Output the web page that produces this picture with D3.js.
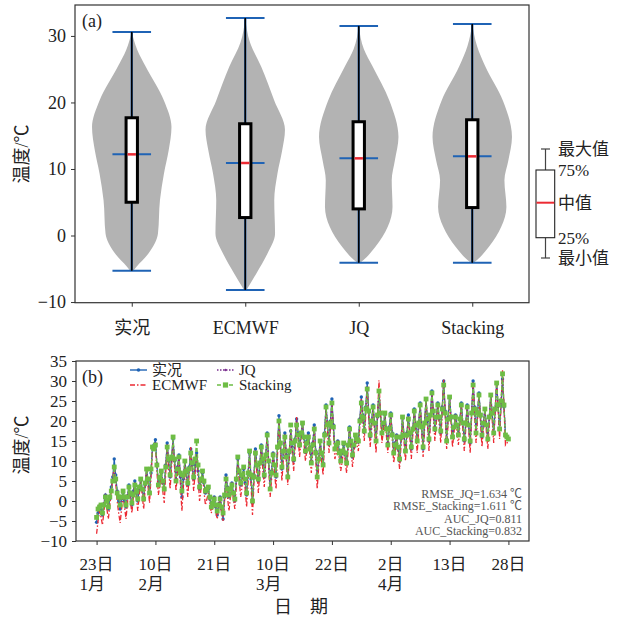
<!DOCTYPE html>
<html>
<head>
<meta charset="utf-8">
<script src="https://cdn.jsdelivr.net/npm/d3@7"></script>
<style>
  body { margin: 0; background: #fff; }
  svg text { font-family: "Liberation Serif", "Noto Sans CJK SC", serif !important; fill: #222; }
</style>
</head>
<body>
<div id="chart"></div>
<script>
// Chart size
var svgWidth = 626;
var svgHeight = 619;

// ---- Panel (a) data: violin + box ----
var categories = ["实况", "ECMWF", "JQ", "Stacking"];
var boxMin = [-5.3, -8.2, -4.1, -4.1];
var boxQ1 = [5.0, 2.7, 4.0, 4.2];
var boxMedian = [12.2, 10.9, 11.6, 11.9];
var boxQ3 = [17.7, 16.8, 17.1, 17.4];
var boxMax = [30.6, 32.7, 31.5, 31.8];

// violin outline: temperature levels and relative half widths
var violinTemps = [
  [-5.3, -4.7, -2.7, 0.3, 5.3, 9.3, 12.8, 16.3, 20.3, 25.4, 27.9, 30.6],
  [-8.2, -5.7, -2.7, 0.3, 5.3, 9.3, 12.8, 15.9, 20.3, 25.4, 29.0, 32.7],
  [-4.1, -3.7, -1.7, 1.3, 4.3, 8.3, 11.3, 14.8, 20.3, 25.4, 28.0, 31.5],
  [-4.1, -3.7, -1.7, 1.3, 4.3, 8.3, 11.3, 14.8, 20.3, 25.4, 28.5, 31.8]
];
var violinWidths = [
  [0.04, 0.12, 0.42, 0.66, 0.71, 0.81, 0.93, 1.0, 0.81, 0.35, 0.14, 0.0],
  [0.03, 0.28, 0.56, 0.75, 0.73, 0.81, 0.93, 1.0, 0.73, 0.40, 0.12, 0.0],
  [0.04, 0.12, 0.42, 0.73, 0.85, 0.83, 0.91, 1.0, 0.77, 0.35, 0.13, 0.0],
  [0.04, 0.12, 0.42, 0.73, 0.86, 0.81, 0.91, 1.0, 0.77, 0.33, 0.12, 0.0]
];
var yTicksA = [-10, 0, 10, 20, 30];
var boxLegendLabels = ["最大值", "75%", "中值", "25%", "最小值"];

// ---- Panel (b) data: time series (281 samples) ----
var obsSeries = [
  -5.3, -3.0, -1.5, -2.0, -3.5, -1.0, 1.5, 0.0, -2.0, 0.5, 3.5, 6.0, 10.5, 6.5, 2.5, 0.0, -2.0, 0.5, 2.0, 0.0,
  -1.5, 1.0, 4.0, 1.5, -1.0, 2.5, 5.0, 2.0, 0.0, 3.0, 5.5, 3.0, 0.5, 4.0, 8.0, 5.0, 2.0, 7.0, 13.5, 14.0,
  15.3, 9.0, 4.0, 5.5, 7.0, 4.5, 3.0, 9.0, 14.5, 10.0, 6.0, 11.0, 15.5, 10.0, 5.0, 8.5, 11.5, 6.0, 1.0, 5.5,
  10.0, 7.0, 4.0, 8.5, 13.0, 9.0, 5.5, 9.0, 12.0, 7.5, 3.0, 5.0, 7.0, 4.5, 2.0, 2.5, 3.0, 0.5, -1.5, -0.5,
  1.0, -1.5, -3.5, -1.0, 1.0, -2.0, -4.5, 1.0, 6.5, 3.5, 1.0, 3.0, 4.5, 2.0, 0.0, 5.5, 10.5, 7.0, 4.0, 6.0,
  8.0, 4.5, 1.5, 7.0, 12.0, 5.5, -0.5, 6.5, 13.0, 9.0, 5.0, 9.5, 14.0, 10.0, 6.0, 11.5, 17.0, 10.0, 3.0, 7.5,
  12.0, 9.0, 6.0, 13.5, 21.3, 14.5, 8.0, 12.5, 17.0, 11.5, 6.0, 12.0, 17.5, 13.5, 10.0, 15.5, 20.5, 17.0, 14.0, 16.5,
  19.5, 16.0, 12.5, 15.0, 17.0, 13.5, 10.0, 14.5, 19.0, 12.5, 6.0, 10.5, 15.0, 12.0, 9.5, 17.0, 24.0, 19.0, 14.5, 20.0,
  25.5, 19.0, 13.0, 14.0, 15.0, 12.5, 10.5, 12.0, 14.0, 11.5, 9.5, 14.0, 18.5, 14.5, 11.0, 13.5, 16.0, 15.5, 15.0, 20.5,
  26.0, 21.5, 17.5, 23.5, 29.5, 22.5, 16.0, 20.0, 24.0, 19.5, 15.0, 21.0, 27.5, 22.0, 17.0, 19.0, 21.5, 18.0, 14.5, 18.5,
  22.0, 17.0, 12.5, 14.5, 16.5, 13.0, 10.0, 15.5, 21.0, 16.5, 12.5, 17.0, 21.5, 17.0, 13.0, 18.0, 23.0, 19.0, 15.0, 19.5,
  24.5, 18.5, 13.0, 19.5, 25.5, 20.0, 15.0, 21.5, 27.5, 22.5, 18.0, 21.0, 24.5, 20.5, 17.0, 23.5, 30.0, 22.5, 15.5, 21.0,
  26.0, 21.0, 16.0, 18.5, 21.5, 19.0, 16.5, 20.5, 24.5, 19.5, 15.0, 19.5, 24.0, 19.0, 14.5, 22.0, 30.0, 23.5, 17.0, 22.0,
  27.0, 21.5, 16.0, 19.5, 23.0, 19.0, 15.5, 21.0, 26.5, 22.0, 17.0, 23.0, 29.5, 24.0, 18.0, 24.0, 30.5, 23.5, 16.5, 16.0, 15.5
];
var ecmwfSeries = [
  -8.2, -5.0, -2.5, -4.0, -6.0, -2.5, 0.5, -2.0, -4.5, -1.0, 2.5, 5.5, 9.0, 4.5, 0.0, -3.0, -5.5, -2.0, 1.5, -1.5,
  -4.5, -0.5, 3.0, 0.0, -3.0, 1.0, 4.5, 1.0, -2.5, 1.5, 5.0, 1.5, -2.0, 3.0, 7.5, 3.5, -0.5, 6.0, 12.5, 13.0,
  14.0, 7.5, 1.5, 4.0, 6.0, 2.5, -0.5, 7.0, 13.5, 8.0, 3.0, 9.0, 14.5, 8.5, 2.5, 7.0, 11.0, 4.0, -2.5, 3.5,
  9.0, 5.0, 1.0, 7.0, 13.5, 8.0, 2.5, 7.0, 11.5, 6.0, 0.0, 3.0, 6.5, 2.5, -1.0, 0.5, 2.0, -0.5, -3.0, -1.5,
  0.0, -2.5, -4.5, -2.0, 0.0, -3.0, -5.0, 0.0, 5.0, 1.0, -2.5, 1.0, 3.5, 0.5, -2.0, 4.0, 9.5, 5.0, 1.0, 4.0,
  7.5, 3.0, -1.5, 4.5, 11.0, 4.0, -3.5, 4.5, 12.5, 7.0, 2.0, 7.5, 13.0, 8.0, 3.5, 10.0, 16.5, 8.5, 1.0, 5.5,
  11.0, 7.0, 3.0, 11.5, 20.5, 12.5, 5.0, 10.5, 16.5, 10.0, 4.0, 11.0, 18.0, 12.5, 7.5, 14.0, 21.0, 16.0, 11.0, 15.0,
  19.0, 14.5, 10.0, 13.0, 16.0, 11.5, 7.0, 12.5, 18.5, 10.5, 3.0, 8.5, 14.0, 10.0, 6.5, 15.0, 23.0, 17.5, 12.0, 18.0,
  24.5, 17.5, 10.5, 12.0, 14.0, 10.5, 7.5, 10.0, 13.0, 10.0, 7.0, 12.5, 18.0, 13.0, 8.5, 12.0, 15.5, 14.0, 12.5, 19.0,
  25.5, 20.0, 15.0, 21.5, 28.5, 21.0, 13.5, 18.0, 23.0, 17.5, 12.0, 21.0, 30.2, 22.0, 14.5, 17.5, 21.0, 16.5, 12.0, 17.0,
  21.5, 15.5, 9.5, 12.5, 16.0, 12.0, 8.0, 14.0, 20.0, 15.0, 10.0, 15.5, 21.0, 16.0, 10.5, 16.5, 22.5, 17.0, 12.0, 18.0,
  24.0, 17.5, 11.0, 18.0, 25.0, 19.0, 12.5, 20.0, 27.0, 21.0, 15.0, 19.5, 24.0, 19.0, 14.5, 22.5, 30.5, 22.0, 13.0, 19.5,
  25.5, 19.5, 13.5, 17.0, 21.0, 17.5, 14.0, 19.0, 24.0, 18.0, 12.5, 18.0, 23.5, 18.0, 12.0, 21.0, 29.5, 22.0, 14.5, 20.5,
  26.5, 20.0, 13.5, 18.0, 22.5, 17.5, 13.0, 19.5, 26.0, 20.0, 14.5, 22.0, 30.0, 23.0, 15.5, 24.0, 32.7, 23.5, 14.0, 14.5, 15.0
];
var jqSeries = [
  -4.1, -2.5, -1.0, -1.5, -3.0, -0.5, 1.5, 0.5, -1.0, 1.0, 3.0, 5.5, 8.0, 5.0, 2.5, 0.5, -1.0, 0.5, 2.0, 0.5,
  -0.5, 1.5, 3.5, 1.5, -0.5, 2.0, 4.5, 2.5, 0.5, 3.0, 5.0, 3.0, 1.0, 4.0, 7.5, 5.0, 2.5, 7.5, 13.0, 14.0,
  14.5, 9.5, 4.5, 6.0, 7.0, 5.0, 3.5, 9.0, 14.0, 10.0, 6.0, 10.5, 15.0, 10.0, 5.5, 8.5, 11.0, 6.5, 2.0, 6.0,
  9.5, 7.0, 4.0, 8.0, 12.5, 9.0, 5.5, 8.5, 11.5, 7.5, 3.5, 5.0, 7.0, 4.5, 2.0, 2.5, 3.0, 1.0, -1.0, 0.0,
  1.0, -1.0, -2.5, -0.5, 1.0, -1.5, -3.5, 1.0, 6.0, 3.5, 1.0, 3.0, 4.5, 2.5, 0.5, 5.0, 10.0, 7.0, 4.0, 6.0,
  8.0, 5.0, 2.0, 7.0, 11.5, 6.0, 0.5, 6.5, 12.5, 9.0, 5.0, 9.5, 13.5, 10.0, 6.0, 11.0, 16.0, 10.0, 3.5, 7.5,
  12.0, 9.0, 6.0, 13.0, 20.0, 14.0, 8.0, 12.0, 16.5, 11.5, 6.5, 12.0, 17.5, 13.5, 10.0, 15.0, 20.0, 16.5, 13.5, 16.0,
  19.0, 15.5, 12.0, 14.5, 16.5, 13.0, 10.0, 14.5, 18.5, 12.5, 6.5, 11.0, 15.0, 12.0, 9.5, 16.5, 23.5, 19.0, 14.0, 19.5,
  24.5, 18.5, 13.0, 14.0, 15.0, 12.5, 10.5, 12.0, 14.0, 12.0, 10.0, 14.0, 18.0, 14.5, 11.0, 13.5, 16.0, 15.0, 14.5, 20.0,
  25.0, 21.0, 17.0, 23.0, 28.5, 22.0, 16.0, 20.0, 23.5, 19.0, 15.0, 21.0, 27.0, 22.0, 17.0, 19.0, 21.0, 18.0, 14.5, 18.0,
  21.5, 17.0, 12.5, 14.5, 16.5, 13.5, 10.5, 15.5, 20.5, 16.5, 12.5, 17.0, 21.0, 17.0, 13.0, 18.0, 22.5, 19.0, 15.0, 19.5,
  24.0, 18.5, 13.5, 19.5, 25.0, 20.0, 15.0, 21.0, 27.0, 22.0, 17.5, 21.0, 24.0, 20.5, 17.0, 23.0, 29.5, 22.5, 15.5, 20.5,
  25.5, 21.0, 16.0, 18.5, 21.5, 19.0, 16.5, 20.0, 24.0, 19.5, 15.0, 19.0, 23.5, 19.0, 14.5, 22.0, 29.5, 23.0, 17.0, 22.0,
  26.5, 21.0, 16.0, 19.5, 23.0, 19.0, 15.5, 21.0, 26.0, 21.5, 17.0, 23.0, 29.0, 23.5, 18.0, 24.5, 31.5, 23.5, 16.5, 16.0, 15.5
];
var stackingSeries = [
  -4.1, -2.0, -1.5, -1.0, -3.0, -1.0, 1.0, 0.0, -1.5, 1.0, 2.5, 5.0, 8.5, 5.5, 2.0, 1.0, -1.0, 1.0, 2.5, 1.0,
  -1.0, 1.0, 3.5, 2.0, -0.5, 1.5, 4.0, 2.5, 0.5, 3.5, 5.5, 3.0, 0.5, 4.5, 8.0, 5.5, 2.0, 8.0, 13.5, 13.0,
  14.0, 9.0, 4.0, 6.0, 7.5, 5.0, 3.0, 8.5, 13.5, 10.5, 6.5, 11.0, 16.0, 10.5, 5.0, 8.0, 11.0, 7.0, 2.5, 6.5,
  10.0, 7.5, 4.5, 8.0, 12.0, 9.5, 6.0, 10.5, 15.0, 9.0, 3.5, 5.5, 7.5, 5.0, 2.5, 3.0, 3.5, 1.0, -1.5, -0.5,
  0.5, -1.0, -2.5, -1.0, 0.5, -1.5, -3.0, 1.5, 5.5, 3.0, 1.5, 3.0, 4.0, 2.0, 0.5, 5.5, 11.0, 7.5, 4.5, 6.5,
  8.5, 5.5, 2.0, 7.0, 12.5, 6.5, 0.0, 6.0, 12.0, 9.0, 5.5, 9.5, 13.5, 10.5, 6.5, 11.5, 16.5, 10.0, 3.0, 7.0,
  11.5, 9.0, 6.5, 13.5, 20.0, 14.5, 8.5, 12.5, 16.0, 11.0, 6.0, 12.5, 19.0, 14.5, 10.5, 15.0, 19.0, 16.5, 14.0, 17.0,
  19.5, 16.0, 12.5, 14.5, 16.0, 13.0, 9.5, 14.0, 18.0, 12.0, 6.0, 10.5, 15.0, 12.0, 9.0, 16.5, 23.5, 19.0, 14.5, 19.5,
  24.5, 18.5, 13.0, 14.0, 14.5, 12.0, 10.0, 12.5, 14.5, 12.0, 9.5, 14.0, 18.0, 15.0, 11.5, 14.0, 16.5, 15.5, 15.0, 20.0,
  24.5, 21.0, 17.5, 23.0, 28.0, 22.5, 16.5, 20.0, 23.5, 19.5, 15.0, 21.5, 27.5, 22.0, 17.0, 19.5, 22.0, 18.0, 14.0, 18.0,
  21.5, 16.5, 12.0, 14.0, 16.0, 13.5, 10.5, 16.0, 21.0, 16.5, 12.5, 16.5, 20.5, 17.0, 13.5, 18.0, 22.5, 19.0, 15.0, 19.5,
  24.0, 18.5, 13.5, 19.5, 25.5, 20.5, 15.5, 21.5, 27.0, 22.5, 18.0, 21.0, 24.0, 21.0, 17.5, 23.0, 29.0, 22.0, 15.0, 20.5,
  26.0, 21.0, 16.0, 18.5, 21.0, 19.0, 16.5, 20.5, 24.0, 19.5, 15.5, 19.5, 23.5, 19.0, 15.0, 22.0, 29.0, 23.0, 17.0, 22.0,
  26.5, 21.5, 16.5, 19.5, 23.0, 19.0, 15.5, 21.0, 26.5, 22.0, 17.0, 23.0, 29.5, 24.0, 18.0, 25.0, 31.8, 24.0, 16.5, 16.0, 15.5
];
var seriesNames = ["实况", "ECMWF", "JQ", "Stacking"];
var dayTickIndex = [0, 40, 80, 120, 160, 200, 240, 280];
var dayTickLabels = ["23日", "10日", "21日", "10日", "22日", "2日", "13日", "28日"];
var monthTickLabels = ["1月", "2月", "", "3月", "", "4月", "", ""];
var yTicksB = [-10, -5, 0, 5, 10, 15, 20, 25, 30, 35];
var scoreLines = ["RMSE_JQ=1.634 ℃", "RMSE_Stacking=1.611 ℃", "AUC_JQ=0.811", "AUC_Stacking=0.832"];

var blue = "#1f63b5", red = "#ec2a33", purple = "#7a2f8f", green = "#6ebd45";
var fontCss = "'Liberation Serif', 'Noto Sans CJK SC', serif";

var svg = d3.select("#chart")
  .append("svg")
  .attr("width", svgWidth)
  .attr("height", svgHeight)
  .attr("font-family", fontCss);

// ================= Panel (a) =================
var xA = d3.scaleLinear().domain([0.5, 4.5]).range([75, 529]);
var yA = d3.scaleLinear().domain([-10.1, 34.65]).range([302.7, 5]);

var gA = svg.append("g");
var halfW = xA(1.35) - xA(1);

// violins
violinTemps.forEach(function(temps, i) {
  var pts = temps.map((t, j) => ({t: t, w: violinWidths[i][j]}));
  var cx = xA(i + 1);
  var area = d3.area()
    .y(d => yA(d.t))
    .x0(d => cx - d.w * halfW)
    .x1(d => cx + d.w * halfW)
    .curve(d3.curveMonotoneY);
  gA.append("path")
    .attr("d", area(pts))
    .attr("fill", "#b3b3b3");
});

// blue extrema / median bars, whisker
var capHalf = xA(1.17) - xA(1);
categories.forEach(function(c, i) {
  var cx = xA(i + 1);
  [boxMax[i], boxMin[i], boxMedian[i]].forEach(function(v) {
    gA.append("line")
      .attr("x1", cx - capHalf).attr("x2", cx + capHalf)
      .attr("y1", yA(v)).attr("y2", yA(v))
      .attr("stroke", blue).attr("stroke-width", 2);
  });
  gA.append("line")
    .attr("x1", cx).attr("x2", cx)
    .attr("y1", yA(boxMin[i])).attr("y2", yA(boxMax[i]))
    .attr("stroke", blue).attr("stroke-width", 2.2);
  gA.append("line")
    .attr("x1", cx).attr("x2", cx)
    .attr("y1", yA(boxMin[i])).attr("y2", yA(boxMax[i]))
    .attr("stroke", "#000").attr("stroke-width", 1.6);
});

// boxes
var boxHalf = (xA(1.1) - xA(1)) / 2;
categories.forEach(function(c, i) {
  var cx = xA(i + 1);
  gA.append("rect")
    .attr("x", cx - boxHalf)
    .attr("y", yA(boxQ3[i]))
    .attr("width", boxHalf * 2)
    .attr("height", yA(boxQ1[i]) - yA(boxQ3[i]))
    .attr("fill", "#fff")
    .attr("stroke", "#000")
    .attr("stroke-width", 3);
  gA.append("line")
    .attr("x1", cx - boxHalf + 1.5).attr("x2", cx + boxHalf - 1.5)
    .attr("y1", yA(boxMedian[i])).attr("y2", yA(boxMedian[i]))
    .attr("stroke", red).attr("stroke-width", 2.5);
});

// frame + axes
gA.append("rect")
  .attr("x", 75).attr("y", 5).attr("width", 454).attr("height", 297.7)
  .attr("fill", "none").attr("stroke", "#333").attr("stroke-width", 1.2);

var yAxisA = gA.append("g")
  .attr("transform", "translate(75,0)")
  .call(d3.axisLeft(yA).tickValues(yTicksA).tickSize(4).tickPadding(5)
    .tickFormat(d => d < 0 ? "\u2212" + Math.abs(d) : d))
  .attr("font-family", fontCss);
yAxisA.select(".domain").remove();
yAxisA.selectAll("text").style("font-size", "18px").style("font-family", fontCss).attr("fill", "#222");
yAxisA.selectAll("line").attr("stroke", "#333");

var xAxisA = gA.append("g")
  .attr("transform", "translate(0,302.7)")
  .call(d3.axisBottom(xA).tickValues([1, 2, 3, 4]).tickSize(4).tickPadding(15)
    .tickFormat((d, i) => categories[i]))
  .attr("font-family", fontCss);
xAxisA.select(".domain").remove();
xAxisA.selectAll("text").style("font-size", "18px").style("font-family", fontCss).attr("fill", "#222");
xAxisA.selectAll("line").attr("stroke", "#333");

gA.append("text")
  .attr("x", 82).attr("y", 27)
  .style("font-size", "18px")
  .text("(a)");

gA.append("text")
  .attr("transform", "translate(28,154) rotate(-90)")
  .attr("text-anchor", "middle")
  .style("font-size", "18px")
  .text("温度/℃");

// box legend on the right
var legX = 545.5;
var legPos = [149, 170, 202.7, 237.7, 258];
var lg = svg.append("g");
lg.append("line").attr("x1", legX).attr("x2", legX).attr("y1", 149).attr("y2", 170)
  .attr("stroke", "#444").attr("stroke-width", 1.2);
lg.append("line").attr("x1", legX).attr("x2", legX).attr("y1", 237.7).attr("y2", 258)
  .attr("stroke", "#444").attr("stroke-width", 1.2);
[149, 258].forEach(y => lg.append("line")
  .attr("x1", legX - 4.5).attr("x2", legX + 4.5).attr("y1", y).attr("y2", y)
  .attr("stroke", "#444").attr("stroke-width", 1.2));
lg.append("rect").attr("x", 536).attr("y", 170).attr("width", 18.7).attr("height", 67.7)
  .attr("fill", "#fff").attr("stroke", "#222").attr("stroke-width", 1.1);
lg.append("line").attr("x1", 536.5).attr("x2", 554.2).attr("y1", 202.7).attr("y2", 202.7)
  .attr("stroke", red).attr("stroke-width", 2);
lg.selectAll("text.leg")
  .data(boxLegendLabels)
  .enter()
  .append("text")
  .attr("x", 558)
  .attr("y", (d, i) => legPos[i] + 6)
  .style("font-size", "17px")
  .text(d => d);

// ================= Panel (b) =================
var xB = d3.scaleLinear().domain([-14, 294]).range([76, 529]);
var yB = d3.scaleLinear().domain([-10, 35]).range([541, 361]);
var gB = svg.append("g");

gB.append("clipPath").attr("id", "clipB")
  .append("rect").attr("x", 76).attr("y", 361).attr("width", 453).attr("height", 180);

var line = d3.line()
  .x((d, i) => xB(i))
  .y(d => yB(d));

var plotB = gB.append("g").attr("clip-path", "url(#clipB)");

// 实况
plotB.append("path").attr("d", line(obsSeries))
  .attr("fill", "none").attr("stroke", blue).attr("stroke-width", 1.2);
plotB.selectAll("circle.obs").data(obsSeries).enter().append("circle")
  .attr("cx", (d, i) => xB(i)).attr("cy", d => yB(d)).attr("r", 1.7).attr("fill", blue);
// ECMWF
plotB.append("path").attr("d", line(ecmwfSeries))
  .attr("fill", "none").attr("stroke", red).attr("stroke-width", 1.3)
  .attr("stroke-dasharray", "5,2,1.5,2");
// JQ
plotB.append("path").attr("d", line(jqSeries))
  .attr("fill", "none").attr("stroke", purple).attr("stroke-width", 1.3)
  .attr("stroke-dasharray", "1.5,1.5");
plotB.selectAll("circle.jq").data(jqSeries).enter().append("circle")
  .attr("cx", (d, i) => xB(i)).attr("cy", d => yB(d)).attr("r", 1.1).attr("fill", purple);
// Stacking
plotB.append("path").attr("d", line(stackingSeries))
  .attr("fill", "none").attr("stroke", green).attr("stroke-width", 1.3)
  .attr("stroke-dasharray", "4,2");
plotB.selectAll("rect.st").data(stackingSeries).enter().append("rect")
  .attr("x", (d, i) => xB(i) - 2.4).attr("y", d => yB(d) - 2.4)
  .attr("width", 4.8).attr("height", 4.8).attr("fill", green);

// frame + axes
gB.append("rect")
  .attr("x", 76).attr("y", 361).attr("width", 453).attr("height", 180)
  .attr("fill", "none").attr("stroke", "#333").attr("stroke-width", 1.2);

var yAxisB = gB.append("g")
  .attr("transform", "translate(76,0)")
  .call(d3.axisLeft(yB).tickValues(yTicksB).tickSize(4).tickPadding(5)
    .tickFormat(d => d < 0 ? "\u2212" + Math.abs(d) : d))
  .attr("font-family", fontCss);
yAxisB.select(".domain").remove();
yAxisB.selectAll("text").style("font-size", "17px").style("font-family", fontCss).attr("fill", "#222");
yAxisB.selectAll("line").attr("stroke", "#333");

var xAxisB = gB.append("g")
  .attr("transform", "translate(0,541)")
  .call(d3.axisBottom(xB).tickValues(dayTickIndex).tickSize(4).tickFormat(""));
xAxisB.select(".domain").remove();
xAxisB.selectAll("line").attr("stroke", "#333");

// two-line tick labels, lines left aligned
dayTickIndex.forEach(function(idx, i) {
  var t = gB.append("text")
    .attr("x", xB(idx)).attr("y", 570)
    .attr("text-anchor", "middle")
    .style("font-size", "17px")
    .text(dayTickLabels[i]);
  if (monthTickLabels[i]) {
    var w = t.node().getComputedTextLength();
    gB.append("text")
      .attr("x", xB(idx) - w / 2).attr("y", 590)
      .style("font-size", "17px")
      .text(monthTickLabels[i]);
  }
});

gB.append("text")
  .attr("x", 301).attr("y", 613)
  .attr("text-anchor", "middle")
  .style("font-size", "18px")
  .text("日\u3000期");

gB.append("text")
  .attr("transform", "translate(28,445) rotate(-90)")
  .attr("text-anchor", "middle")
  .style("font-size", "18px")
  .text("温度/℃");

gB.append("text")
  .attr("x", 82).attr("y", 383)
  .style("font-size", "18px")
  .text("(b)");

// scores
gB.selectAll("text.score")
  .data(scoreLines)
  .enter()
  .append("text")
  .attr("x", 522)
  .attr("y", (d, i) => 497.5 + i * 12.6)
  .attr("text-anchor", "end")
  .style("font-size", "12px")
  .style("fill", "#555")
  .text(d => d);

// legend (b)
var legItems = [
  {name: seriesNames[0], color: blue, dash: null, mark: "dot", x: 130, y: 370},
  {name: seriesNames[1], color: red, dash: "5,2,1.5,2", mark: null, x: 130, y: 385},
  {name: seriesNames[2], color: purple, dash: "1.5,1.5", mark: "smalldot", x: 217, y: 370},
  {name: seriesNames[3], color: green, dash: "4,2", mark: "square", x: 217, y: 385}
];
legItems.forEach(function(d) {
  gB.append("line")
    .attr("x1", d.x).attr("x2", d.x + 17).attr("y1", d.y).attr("y2", d.y)
    .attr("stroke", d.color).attr("stroke-width", 1.4)
    .attr("stroke-dasharray", d.dash);
  if (d.mark === "dot") {
    gB.append("circle").attr("cx", d.x + 8.5).attr("cy", d.y).attr("r", 1.8).attr("fill", d.color);
  } else if (d.mark === "smalldot") {
    gB.append("circle").attr("cx", d.x + 8.5).attr("cy", d.y).attr("r", 1.2).attr("fill", d.color);
  } else if (d.mark === "square") {
    gB.append("rect").attr("x", d.x + 5.9).attr("y", d.y - 2.6).attr("width", 5.2).attr("height", 5.2).attr("fill", d.color);
  }
  gB.append("text")
    .attr("x", d.x + 22).attr("y", d.y + 5)
    .style("font-size", "15px")
    .text(d.name);
});
</script>
</body>
</html>
